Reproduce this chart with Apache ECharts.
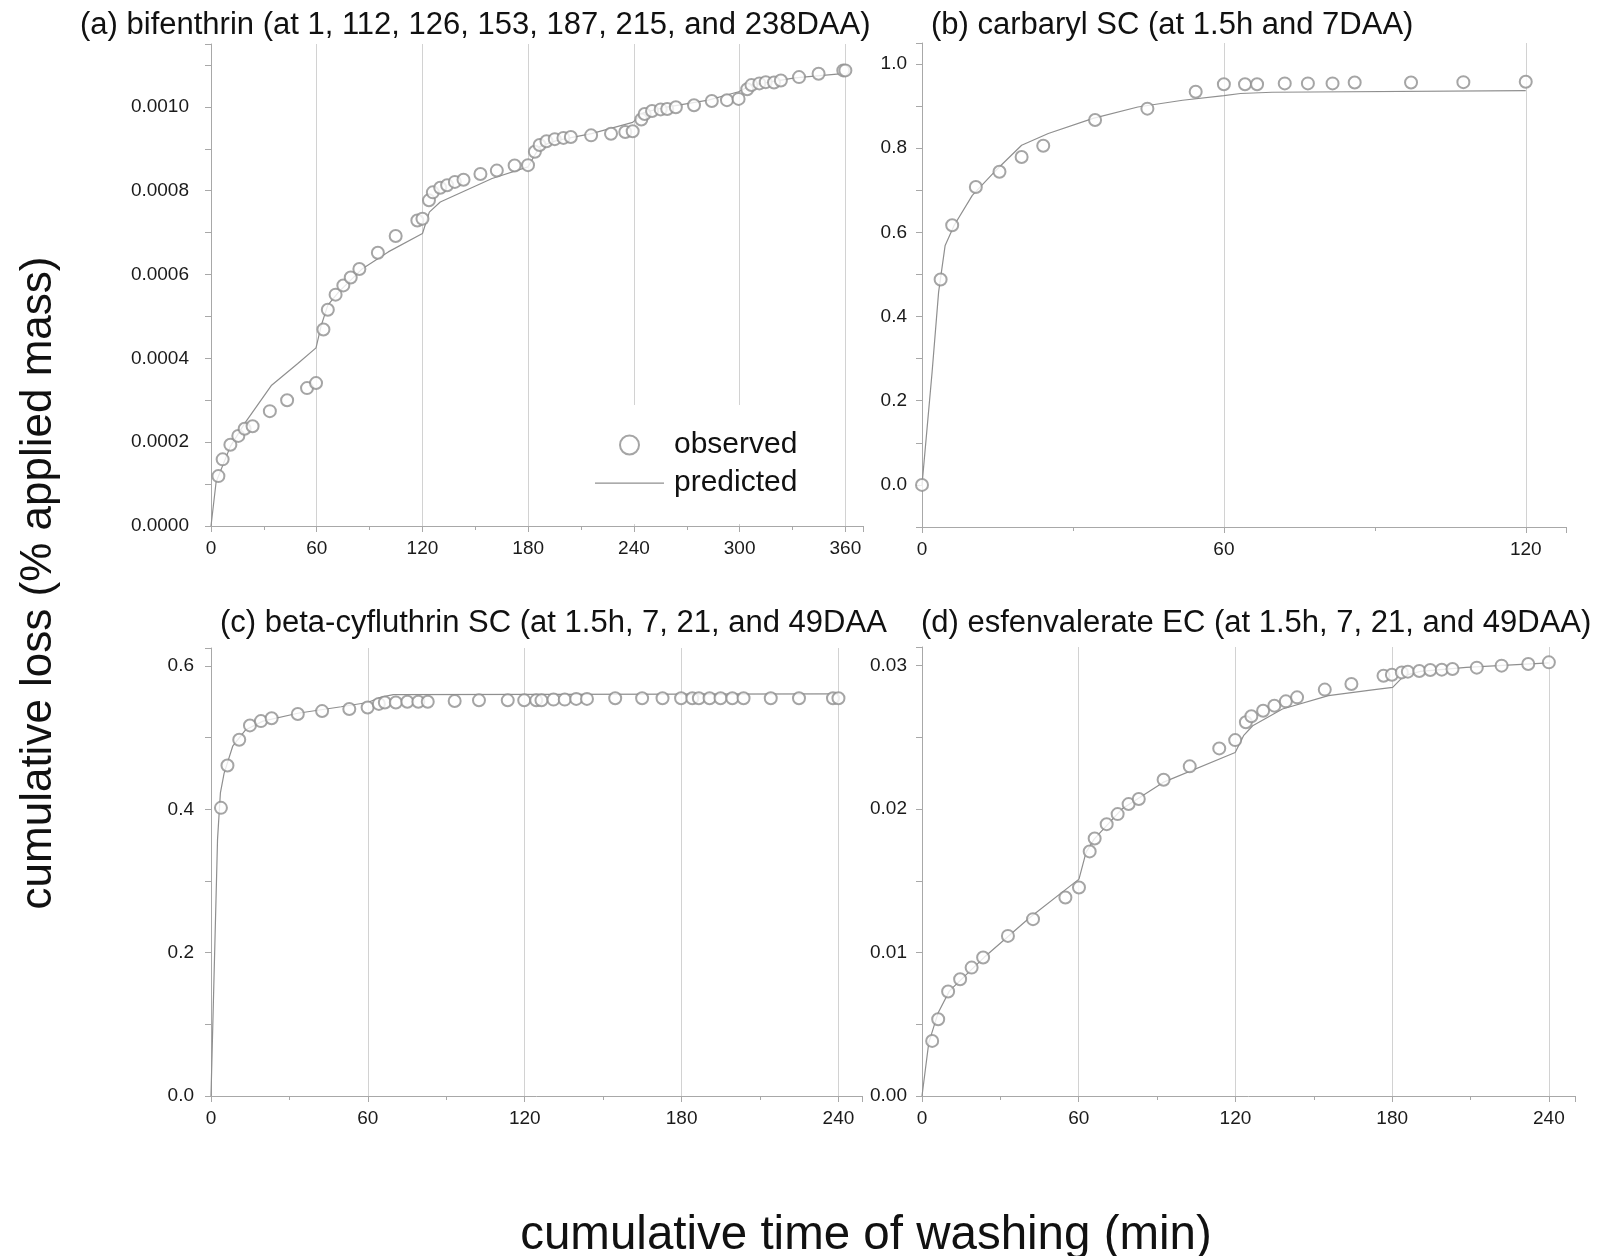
<!DOCTYPE html>
<html>
<head>
<meta charset="utf-8">
<script src="https://cdn.jsdelivr.net/npm/echarts@6/dist/echarts.min.js"></script>
<style>
  html, body { margin: 0; padding: 0; background: #fff; }
  #main { width: 1601px; height: 1256px; }
</style>
</head>
<body>
<div id="main"></div>
<script>
// (a) bifenthrin (the 0,0 observation sits hidden in the axis corner)
const aObsT = [4.2, 6.6, 11, 15.5, 19.1, 23.6, 33.4, 43.2, 54.5, 59.6, 63.8, 66.3, 70.7, 75.1, 79.3, 84.2, 94.7, 104.8, 117.1, 120, 123.7, 125.9, 130.1, 134, 138.4, 143.3, 152.9, 162.2, 172.3, 179.9, 183.8, 186.5, 190.4, 195.1, 200, 204.2, 215.7, 227, 235.1, 239.3, 244.2, 246.1, 250.3, 255.2, 258.9, 263.8, 274.1, 284.2, 292.8, 299.4, 304.3, 306.7, 311.2, 314.8, 319.5, 323.4, 333.7, 344.8, 358.8, 360];
const aObsV = [0.000119, 0.000159, 0.000194, 0.000215, 0.000232, 0.000238, 0.000274, 0.000300, 0.000329, 0.000341, 0.000469, 0.000516, 0.000552, 0.000574, 0.000593, 0.000613, 0.000652, 0.000692, 0.000729, 0.000733, 0.000777, 0.000796, 0.000807, 0.000813, 0.000821, 0.000826, 0.000840, 0.000848, 0.000860, 0.000861, 0.000893, 0.000909, 0.000918, 0.000923, 0.000926, 0.000928, 0.000932, 0.000936, 0.000940, 0.000942, 0.000970, 0.000983, 0.000990, 0.000994, 0.000995, 0.000999, 0.001004, 0.001014, 0.001016, 0.001019, 0.001042, 0.001052, 0.001056, 0.001059, 0.001058, 0.001063, 0.001071, 0.001079, 0.001087, 0.001087];
const aPredT = [0, 2.9, 11, 19.6, 34.4, 49.1, 59.6, 62.6, 66.3, 72.4, 85.9, 100.6, 120, 123.9, 130.1, 144.8, 159.5, 179.9, 186.5, 196.3, 215.9, 239.3, 245.4, 257.7, 282.2, 299.4, 306.7, 331.3, 360];
const aPredV = [0, 0.000105, 0.000190, 0.000248, 0.000336, 0.000387, 0.000425, 0.000479, 0.000527, 0.000558, 0.000614, 0.000654, 0.000698, 0.000749, 0.000773, 0.000801, 0.000829, 0.000857, 0.000905, 0.000920, 0.000936, 0.000963, 0.000986, 0.000999, 0.001016, 0.001036, 0.001052, 0.001069, 0.001080];

// (b) carbaryl SC
const bObsT = [0, 3.7, 6.0, 10.7, 15.4, 19.8, 24.1, 34.4, 44.8, 54.4, 60, 64.2, 66.6, 72.1, 76.7, 81.6, 86.0, 97.2, 107.6, 120];
const bObsV = [0, 0.488, 0.617, 0.708, 0.744, 0.779, 0.806, 0.867, 0.894, 0.934, 0.952, 0.952, 0.952, 0.954, 0.954, 0.954, 0.956, 0.956, 0.957, 0.958];
const bPredT = [0, 2, 3.3, 4.6, 6.4, 10, 14.4, 19.8, 25.1, 34, 42.9, 51.8, 60, 63.3, 69.6, 120];
const bPredV = [0, 0.267, 0.458, 0.569, 0.617, 0.688, 0.744, 0.807, 0.835, 0.871, 0.898, 0.914, 0.925, 0.930, 0.933, 0.937];

// (c) beta-cyfluthrin SC
const cObsT = [3.8, 6.3, 10.8, 14.9, 19.1, 23.2, 33.2, 42.5, 52.9, 59.9, 64.2, 66.5, 70.7, 75.1, 79.3, 82.9, 93.2, 102.5, 113.5, 119.8, 124.4, 126.4, 131, 135.3, 139.7, 143.8, 154.6, 164.9, 172.7, 179.8, 184.1, 186.6, 190.7, 194.9, 199.4, 203.7, 214.1, 224.9, 237.9, 240];
const cObsV = [0.402, 0.461, 0.497, 0.517, 0.523, 0.527, 0.533, 0.537, 0.540, 0.542, 0.547, 0.549, 0.549, 0.550, 0.550, 0.550, 0.551, 0.552, 0.552, 0.552, 0.552, 0.552, 0.553, 0.553, 0.554, 0.554, 0.555, 0.555, 0.555, 0.555, 0.555, 0.555, 0.555, 0.555, 0.555, 0.555, 0.555, 0.555, 0.555, 0.555];
const cPredT = [0, 2.5, 3.6, 5, 8.3, 13.3, 19.9, 33.2, 49.8, 59.9, 64.7, 69.7, 240];
const cPredV = [0, 0.358, 0.423, 0.450, 0.488, 0.511, 0.523, 0.534, 0.543, 0.549, 0.556, 0.560, 0.561];

// (d) esfenvalerate EC
const dObsT = [3.9, 6.2, 10.0, 14.6, 19.0, 23.4, 32.9, 42.5, 54.9, 60.1, 64.2, 66.1, 70.7, 74.9, 79.1, 83.0, 92.5, 102.5, 113.8, 119.9, 124.0, 126.1, 130.6, 134.9, 139.3, 143.6, 154.2, 164.4, 176.7, 179.9, 183.7, 186.0, 190.4, 194.6, 199.0, 203.1, 212.4, 221.9, 232.1, 240];
const dObsV = [0.00384, 0.00535, 0.00728, 0.00814, 0.00895, 0.00965, 0.01116, 0.01233, 0.01384, 0.01453, 0.01705, 0.01795, 0.01895, 0.01965, 0.02035, 0.02070, 0.02205, 0.02298, 0.02423, 0.02481, 0.02605, 0.02647, 0.02686, 0.02721, 0.02751, 0.02779, 0.02833, 0.02872, 0.02930, 0.02937, 0.02953, 0.02958, 0.02963, 0.02970, 0.02972, 0.02977, 0.02986, 0.03000, 0.03012, 0.03023];
const dPredT = [0, 2.6, 6.2, 10.5, 23.7, 41.3, 60.1, 62.8, 65.9, 76.5, 92.3, 119.9, 123.1, 126.6, 138, 155.6, 173.2, 180.2, 184.6, 190.8, 208.4, 240];
const dPredV = [0, 0.00372, 0.00581, 0.00733, 0.00965, 0.01244, 0.01512, 0.01698, 0.01791, 0.02000, 0.02186, 0.02395, 0.02512, 0.02581, 0.02698, 0.02791, 0.02833, 0.02849, 0.02930, 0.02960, 0.02988, 0.03019];

const panelTitles = [
  "(a) bifenthrin (at 1, 112, 126, 153, 187, 215, and 238DAA)",
  "(b) carbaryl SC (at 1.5h and 7DAA)",
  "(c) beta-cyfluthrin SC (at 1.5h, 7, 21, and 49DAA",
  "(d) esfenvalerate EC (at 1.5h, 7, 21, and 49DAA)"
];

const font = "'Liberation Sans', Arial, sans-serif";
const axisGray = "#a8a8a8";
const markGray = "#8f8f8f";

const zip = (t, v) => t.map((x, i) => [x, v[i]]);

function xAxisOf(grid, max) {
  return {
    type: "value", gridIndex: grid, min: 0, max: max, interval: 60,
    axisLine: { onZero: false, lineStyle: { color: axisGray } },
    axisTick: { show: true, length: 6, lineStyle: { color: axisGray } },
    minorTick: { show: true, splitNumber: 2, length: 4, lineStyle: { color: axisGray } },
    splitLine: { show: true, showMinLine: false, showMaxLine: false, lineStyle: { color: "#d2d2d2" } },
    axisLabel: {
      fontSize: 19, color: "#1a1a1a", fontFamily: font, margin: 13,
      formatter: (v) => (v % 60 === 0 ? String(v) : "")
    }
  };
}

function yAxisOf(grid, min, max, step, digits, margin) {
  return {
    type: "value", gridIndex: grid, min: min, max: max, interval: step / 2,
    axisLine: { show: true, onZero: false, lineStyle: { color: axisGray } },
    axisTick: { show: true, length: 6, lineStyle: { color: axisGray } },
    splitLine: { show: false },
    axisLabel: {
      fontSize: 19, color: "#1a1a1a", fontFamily: font, margin: margin,
      formatter: (v) => {
        const k = v / step;
        return Math.abs(k - Math.round(k)) < 1e-6 ? v.toFixed(digits) : "";
      }
    }
  };
}

function obs(i, t, v) {
  return {
    name: "observed", type: "scatter", xAxisIndex: i, yAxisIndex: i,
    symbol: "emptyCircle", symbolSize: 12, data: zip(t, v),
    itemStyle: { color: markGray, borderColor: markGray, borderWidth: 1 },
    z: 3
  };
}

function pred(i, t, v) {
  return {
    name: "predicted", type: "line", xAxisIndex: i, yAxisIndex: i,
    symbol: "none", showSymbol: false, data: zip(t, v),
    lineStyle: { color: markGray, width: 1.2 }, itemStyle: { color: markGray },
    z: 2
  };
}

const chart = echarts.init(document.getElementById("main"));

const option = {
  backgroundColor: "#fff",
  animation: false,
  title: [
    { text: panelTitles[0], left: 80, top: 10 },
    { text: panelTitles[1], left: 931, top: 10 },
    { text: panelTitles[2], left: 220, top: 608 },
    { text: panelTitles[3], left: 921, top: 608 }
  ].map((t) => Object.assign(t, {
    padding: 0,
    textStyle: { fontSize: 31, fontWeight: "normal", color: "#111", fontFamily: font }
  })),
  grid: [
    { left: 211, right: 738, top: 44, bottom: 730 },
    { left: 922, right: 35, top: 43, bottom: 729 },
    { left: 211, right: 739, top: 648, bottom: 160 },
    { left: 922, right: 26, top: 647, bottom: 160 }
  ],
  xAxis: [xAxisOf(0, 370), xAxisOf(1, 128), xAxisOf(2, 249), xAxisOf(3, 250)],
  yAxis: [
    yAxisOf(0, 0, 0.00115, 0.0002, 4, 22),
    yAxisOf(1, -0.1, 1.05, 0.2, 1, 15),
    yAxisOf(2, 0, 0.625, 0.2, 1, 17),
    yAxisOf(3, 0, 0.0313, 0.01, 2, 15)
  ],
  legend: {
    data: [
      { name: "observed", icon: "emptyCircle" },
      // plain line icon, the extra moveTo points keep the box 69x19
      { name: "predicted", icon: "path://M0,0 M69,19 M0,9 L69,9 L69,10.2 L0,10.2 Z" }
    ],
    orient: "vertical", left: 585, top: 405,
    padding: [25, 14, 26, 10],
    itemWidth: 69, itemHeight: 19, itemGap: 8,
    backgroundColor: "#fff",
    selectedMode: false,
    textStyle: { fontSize: 30, color: "#111", fontFamily: font, padding: [0, 0, 0, 5] }
  },
  graphic: [
    {
      type: "text", x: 39, y: 583, rotation: Math.PI / 2,
      style: { text: "cumulative loss (% applied mass)", font: "44px " + font, fill: "#111", align: "center", verticalAlign: "middle" }
    },
    {
      type: "text", x: 866, y: 1236,
      style: { text: "cumulative time of washing (min)", font: "47.5px " + font, fill: "#111", align: "center", verticalAlign: "middle" }
    }
  ],
  series: [
    obs(0, aObsT, aObsV), pred(0, aPredT, aPredV),
    obs(1, bObsT, bObsV), pred(1, bPredT, bPredV),
    obs(2, cObsT, cObsV), pred(2, cPredT, cPredV),
    obs(3, dObsT, dObsV), pred(3, dPredT, dPredV)
  ]
};

chart.setOption(option);
</script>
</body>
</html>
